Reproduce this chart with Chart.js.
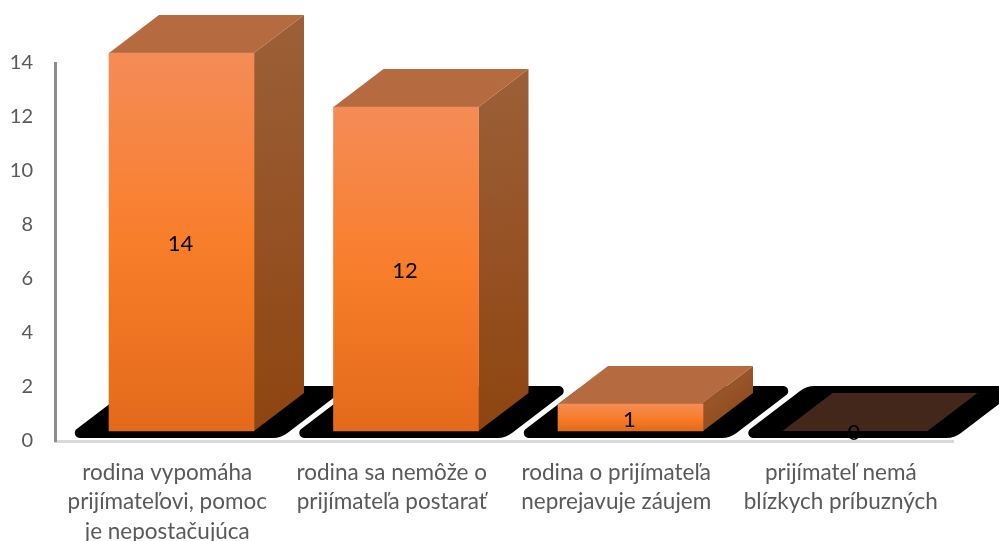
<!DOCTYPE html>
<html>
<head>
<meta charset="utf-8">
<title>Graf</title>
<style>
  html, body { margin: 0; padding: 0; background: #fff; overflow: hidden; }
  #wrap { width: 999px; height: 541px; }
</style>
<script src="https://cdn.jsdelivr.net/npm/chart.js@4"></script>
</head>
<body>
<div id="wrap"><canvas id="chart" width="999" height="541"></canvas></div>
<script>
const categories = [
  ['rodina vypomáha', 'prijímateľovi, pomoc', 'je nepostačujúca'],
  ['rodina sa nemôže o', 'prijímateľa postarať'],
  ['rodina o prijímateľa', 'neprejavuje záujem'],
  ['prijímateľ nemá', 'blízkych príbuzných']
];
const values = [14, 12, 1, 0];
const yMax = 14;
const yStep = 2;

// the front of each bar sits off the axis, the rest of the box goes back from it
const frontShiftX = 14.25;
const frontShiftY = -10;
const depthX = 50;
const depthY = -38;

function frontGradient(ctx, top, bottom) {
  const g = ctx.createLinearGradient(0, top, 0, bottom);
  g.addColorStop(0, '#F48C57');
  g.addColorStop(0.5, '#F97E2B');
  g.addColorStop(1, '#E36A1A');
  return g;
}

function poly(ctx, pts) {
  ctx.beginPath();
  pts.forEach((p, i) => i ? ctx.lineTo(p[0], p[1]) : ctx.moveTo(p[0], p[1]));
  ctx.closePath();
}

function roundedPoly(ctx, pts, radii) {
  const n = pts.length;
  const mid = (a, b) => [(a[0] + b[0]) / 2, (a[1] + b[1]) / 2];
  const start = mid(pts[n - 1], pts[0]);
  ctx.beginPath();
  ctx.moveTo(start[0], start[1]);
  pts.forEach((p, i) => {
    const next = pts[(i + 1) % n];
    ctx.arcTo(p[0], p[1], next[0], next[1], radii[i]);
  });
  ctx.closePath();
}

const box3d = {
  id: 'box3d',
  beforeDatasetsDraw(chart) {
    const ctx = chart.ctx;
    const bars = chart.getDatasetMeta(0).data;
    ctx.save();

    // black floor shadows
    bars.forEach((bar) => {
      const x0 = bar.x - bar.width / 2 + frontShiftX;
      ctx.fillStyle = '#000';
      roundedPoly(ctx, [
        [x0 - 44, 438], [x0 + 172, 438], [x0 + 240, 386], [x0 + 24, 386]
      ], [5, 24, 5, 24]);
      ctx.fill();
    });

    bars.forEach((bar, i) => {
      const x0 = bar.x - bar.width / 2 + frontShiftX;
      const x1 = x0 + bar.width;
      const top = bar.y + frontShiftY;
      const bottom = bar.base + frontShiftY;

      // side face
      if (values[i] > 0) {
        const side = ctx.createLinearGradient(x1, top + depthY, x1 + depthX, bottom);
        side.addColorStop(0, '#9C6039');
        side.addColorStop(1, '#8E4410');
        ctx.fillStyle = side;
        poly(ctx, [[x1, top], [x1 + depthX, top + depthY], [x1 + depthX, bottom + depthY], [x1, bottom]]);
        ctx.fill();
      }

      // top face, on the empty bar it sits on the black shadow
      ctx.fillStyle = values[i] > 0 ? '#B56A40' : '#43271A';
      poly(ctx, [[x0, top], [x1, top], [x1 + depthX, top + depthY], [x0 + depthX, top + depthY]]);
      ctx.fill();
    });
    ctx.restore();
  },
  beforeDatasetDraw(chart) {
    chart.ctx.save();
    chart.ctx.translate(frontShiftX, frontShiftY);
  },
  afterDatasetDraw(chart) {
    chart.ctx.restore();
  },
  afterDatasetsDraw(chart) {
    const ctx = chart.ctx;
    ctx.save();
    ctx.fillStyle = '#000';
    ctx.font = '22px Lato';
    ctx.textAlign = 'center';
    ctx.textBaseline = 'middle';
    chart.getDatasetMeta(0).data.forEach((bar, i) => {
      const mid = (bar.y + bar.base) / 2 + frontShiftY;
      ctx.fillText(String(values[i]), bar.x + frontShiftX - 1, mid + 2);
    });
    ctx.restore();
  }
};

new Chart(document.getElementById('chart'), {
  type: 'bar',
  data: {
    labels: categories,
    datasets: [{
      data: values,
      barThickness: 145,
      clip: false,
      backgroundColor: (c) => {
        const y = c.chart.scales.y;
        // options get resolved before the layout is done too
        if (c.type !== 'data' || !c.chart.chartArea || !y) return '#F97E2B';
        return frontGradient(c.chart.ctx, y.getPixelForValue(c.raw), y.getPixelForValue(0));
      }
    }]
  },
  options: {
    responsive: false,
    animation: false,
    layout: { padding: { top: 63, right: 46, left: 0, bottom: 0 } },
    plugins: { legend: { display: false }, tooltip: { enabled: false } },
    scales: {
      x: {
        afterFit: (s) => { s.height = 100; },
        grid: { display: false },
        border: { color: '#D9D9D9', width: 3 },
        ticks: {
          color: '#595959',
          padding: 9,
          maxRotation: 0,
          autoSkip: false,
          font: { family: 'Lato', size: 22.5, lineHeight: 1.31 }
        }
      },
      y: {
        min: 0,
        max: yMax,
        afterFit: (s) => { s.width = 55; },
        grid: { display: false },
        border: { color: '#8C8C8C', width: 3 },
        ticks: {
          stepSize: yStep,
          color: '#595959',
          padding: 14,
          font: { family: 'Lato', size: 20 }
        }
      }
    }
  },
  plugins: [box3d]
});
</script>
</body>
</html>
